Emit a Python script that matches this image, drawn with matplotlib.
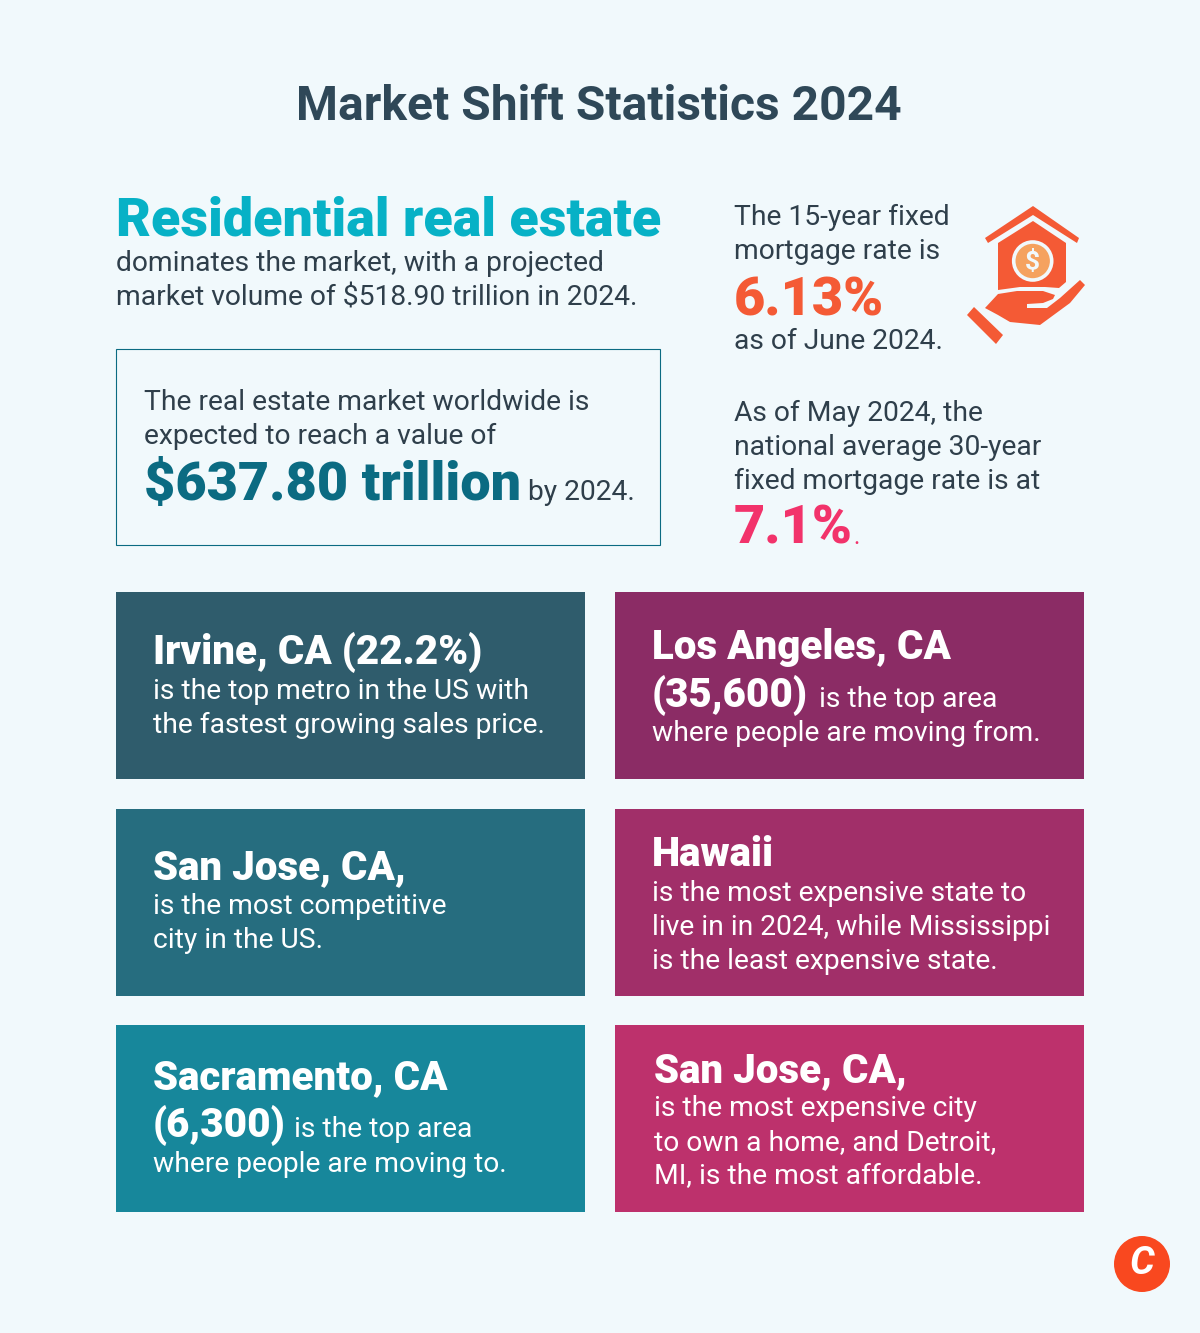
"""Market Shift Statistics 2024 infographic."""
import matplotlib

matplotlib.use("Agg")
import matplotlib.pyplot as plt  # noqa: E402
from matplotlib.patches import Circle, Polygon, Rectangle  # noqa: E402

BG = "#f1f9fc"
DARK = "#2f3f4b"
TITLE = "Market Shift Statistics 2024"
BODY = 28.2
HEAD = 40.2
BIG = 54

# (text, x, baseline y, font px, colour, weight)
TOP_TEXT = [
    ("Residential real estate", 116, 236, 53.7, "#07b1c6", "black"),
    ("dominates the market, with a projected", 116, 271, BODY, DARK, "normal"),
    ("market volume of $518.90 trillion in 2024.", 116, 305, BODY, DARK, "normal"),
    ("The real estate market worldwide is", 144, 410, BODY, DARK, "normal"),
    ("expected to reach a value of", 144, 444, BODY, DARK, "normal"),
    ("$637.80 trillion", 144, 500, BIG, "#0b6b82", "black"),
    ("by 2024.", 528, 500, BODY, DARK, "normal"),
    ("The 15-year fixed", 734, 225, BODY, DARK, "normal"),
    ("mortgage rate is", 734, 259, BODY, DARK, "normal"),
    ("6.13%", 734, 315, BIG, "#f45a35", "black"),
    ("as of June 2024.", 734, 349, BODY, DARK, "normal"),
    ("As of May 2024, the", 734, 421, BODY, DARK, "normal"),
    ("national average 30-year", 734, 455, BODY, DARK, "normal"),
    ("fixed mortgage rate is at", 734, 489, BODY, DARK, "normal"),
    ("7.1%", 734, 544, BIG, "#f2336b", "black"),
    (".", 853, 544, 24, "#f2336b", "normal"),
]

# card colour, left, top
CARDS = [
    ("#2f5c6c", 116, 592),
    ("#8b2c65", 615, 592),
    ("#266d7f", 116, 809),
    ("#a12f69", 615, 809),
    ("#17879b", 116, 1025),
    ("#bd316c", 615, 1025),
]
CARD_TEXT = [
    ("Irvine, CA (22.2%)", 153, 664, HEAD, "black"),
    ("is the top metro in the US with", 153, 699, BODY, "normal"),
    ("the fastest growing sales price.", 153, 733, BODY, "normal"),
    ("Los Angeles, CA", 652, 659, HEAD, "black"),
    ("(35,600)", 652, 707, HEAD, "black"),
    ("is the top area", 819, 707, BODY, "normal"),
    ("where people are moving from.", 652, 741, BODY, "normal"),
    ("San Jose, CA,", 153, 879, HEAD, "black"),
    ("is the most competitive", 153, 914, BODY, "normal"),
    ("city in the US.", 153, 948, BODY, "normal"),
    ("Hawaii", 652, 866, HEAD, "black"),
    ("is the most expensive state to", 652, 901, BODY, "normal"),
    ("live in in 2024, while Mississippi", 652, 935, BODY, "normal"),
    ("is the least expensive state.", 652, 969, BODY, "normal"),
    ("Sacramento, CA", 153, 1089, HEAD, "black"),
    ("(6,300)", 153, 1137, HEAD, "black"),
    ("is the top area", 294, 1137, BODY, "normal"),
    ("where people are moving to.", 153, 1172, BODY, "normal"),
    ("San Jose, CA,", 654, 1082, HEAD, "black"),
    ("is the most expensive city", 654, 1116, BODY, "normal"),
    ("to own a home, and Detroit,", 654, 1150, BODY, "normal"),
    ("MI, is the most affordable.", 654, 1184, BODY, "normal"),
]

CARD_W, CARD_H = 469, 187
PX = 0.72  # px to pt at dpi 100

plt.rcParams["font.family"] = ["Roboto", "DejaVu Sans"]

fig = plt.figure(figsize=(12, 13.33), dpi=100, facecolor=BG)
ax = fig.add_axes([0, 0, 1, 1])
ax.set_xlim(0, 1200)
ax.set_ylim(1333, 0)
ax.axis("off")


def put(s, x, y, px, color, weight="normal", **kw):
    ax.text(x, y, s, fontsize=px * PX, color=color, weight=weight, va="baseline", **kw)


put(TITLE, 599, 120, 48, "#2f4858", "bold", ha="center")
for s, x, y, px, color, weight in TOP_TEXT:
    put(s, x, y, px, color, weight)

ax.add_patch(Rectangle((116, 349), 544, 196, fc="none", ec="#0b6b82", lw=0.8))

for color, x, y in CARDS:
    ax.add_patch(Rectangle((x, y), CARD_W, CARD_H, fc=color, ec="none"))
for s, x, y, px, weight in CARD_TEXT:
    put(s, x, y, px, "white", weight)

# house-in-hand icon
ORANGE = "#f45a35"
ax.add_patch(Polygon([(985, 238), (1033, 206), (1079, 238), (1077, 243), (1033, 215), (988, 243)],
                     fc=ORANGE, ec="none"))
ax.add_patch(Polygon([(998, 243), (1033, 221), (1066, 243), (1066, 282), (1059, 288), (1045, 287),
                      (1020, 287), (998, 290)], fc=ORANGE, ec="none"))
ax.add_patch(Circle((1032.7, 261), 19, fc="#f5a25f", ec=BG, lw=2.6))
ax.text(1032.7, 261.5, "$", fontsize=19, color=BG, weight="bold", ha="center", va="center")
ax.add_patch(Polygon([(985, 308), (998, 294), (1017, 291), (1043, 291), (1055, 295), (1053, 299),
                      (1043, 303), (1027, 304), (1027, 308), (1047, 308), (1060, 298), (1080, 280),
                      (1085, 285), (1070, 303), (1040, 325), (1010, 322), (998, 315)],
                     fc=ORANGE, ec="none"))
ax.add_patch(Polygon([(967, 315), (974, 307), (1003, 335), (996, 344)], fc=ORANGE, ec="none"))

# logo badge
ax.add_patch(Circle((1142, 1264), 28, fc="#f9481f", ec="none"))
ax.text(1142, 1264, "C", fontsize=28, color="white", weight="bold", style="italic",
        family=["Liberation Sans Narrow", "Roboto"], ha="center", va="center")

fig.savefig("out.png", dpi=100, facecolor=BG)
